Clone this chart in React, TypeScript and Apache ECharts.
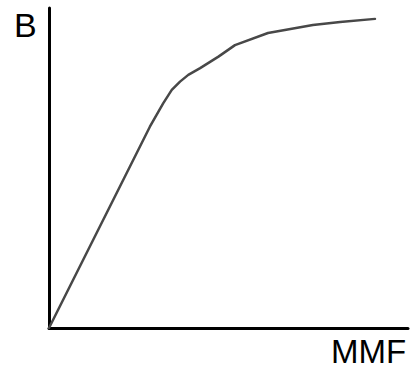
import React, { useEffect, useRef } from "react";
import * as echarts from "echarts";

const mmf: number[] = [0, 28.1, 31.8, 34.2, 36.5, 38.8, 42.1, 47.2, 51.8, 61.0, 73.5, 81.1, 90.8];
const flux: number[] = [0, 62.9, 70.2, 74.4, 77.0, 79.1, 81.2, 84.8, 88.4, 92.2, 94.7, 95.6, 96.6];
const yLabel = "B";
const xLabel = "MMF";

export default function App() {
  const ref = useRef<HTMLDivElement>(null);
  useEffect(() => {
    if (!ref.current) return;
    const chart = echarts.init(ref.current, null, { renderer: "svg" });
    chart.setOption({
      animation: false,
      backgroundColor: "#ffffff",
      grid: { left: 49, top: 8, right: 2, bottom: 42 },
      xAxis: {
        type: "value",
        min: 0,
        max: 100,
        axisLine: { show: true, lineStyle: { color: "#000", width: 3 } },
        axisTick: { show: false },
        axisLabel: { show: false },
        splitLine: { show: false },
      },
      yAxis: {
        type: "value",
        min: 0,
        max: 100,
        axisLine: { show: true, lineStyle: { color: "#000", width: 3 } },
        axisTick: { show: false },
        axisLabel: { show: false },
        splitLine: { show: false },
      },
      graphic: [
        {
          type: "text",
          left: 14,
          top: 8,
          style: { text: yLabel, fontSize: 34, fontFamily: "Liberation Sans", fill: "#000" },
        },
        {
          type: "text",
          left: 331,
          top: 335,
          style: { text: xLabel, fontSize: 33, fontFamily: "Liberation Sans", fill: "#000" },
        },
      ],
      series: [
        {
          type: "line",
          data: mmf.map((x, i) => [x, flux[i]]),
          showSymbol: false,
          smooth: false,
          lineStyle: { color: "#484848", width: 2.5, join: "round", cap: "round" },
        },
      ],
    });
    return () => chart.dispose();
  }, []);
  return (
    <div
      ref={ref}
      style={{ position: "absolute", left: 0, top: 0, width: 410, height: 370 }}
    />
  );
}
